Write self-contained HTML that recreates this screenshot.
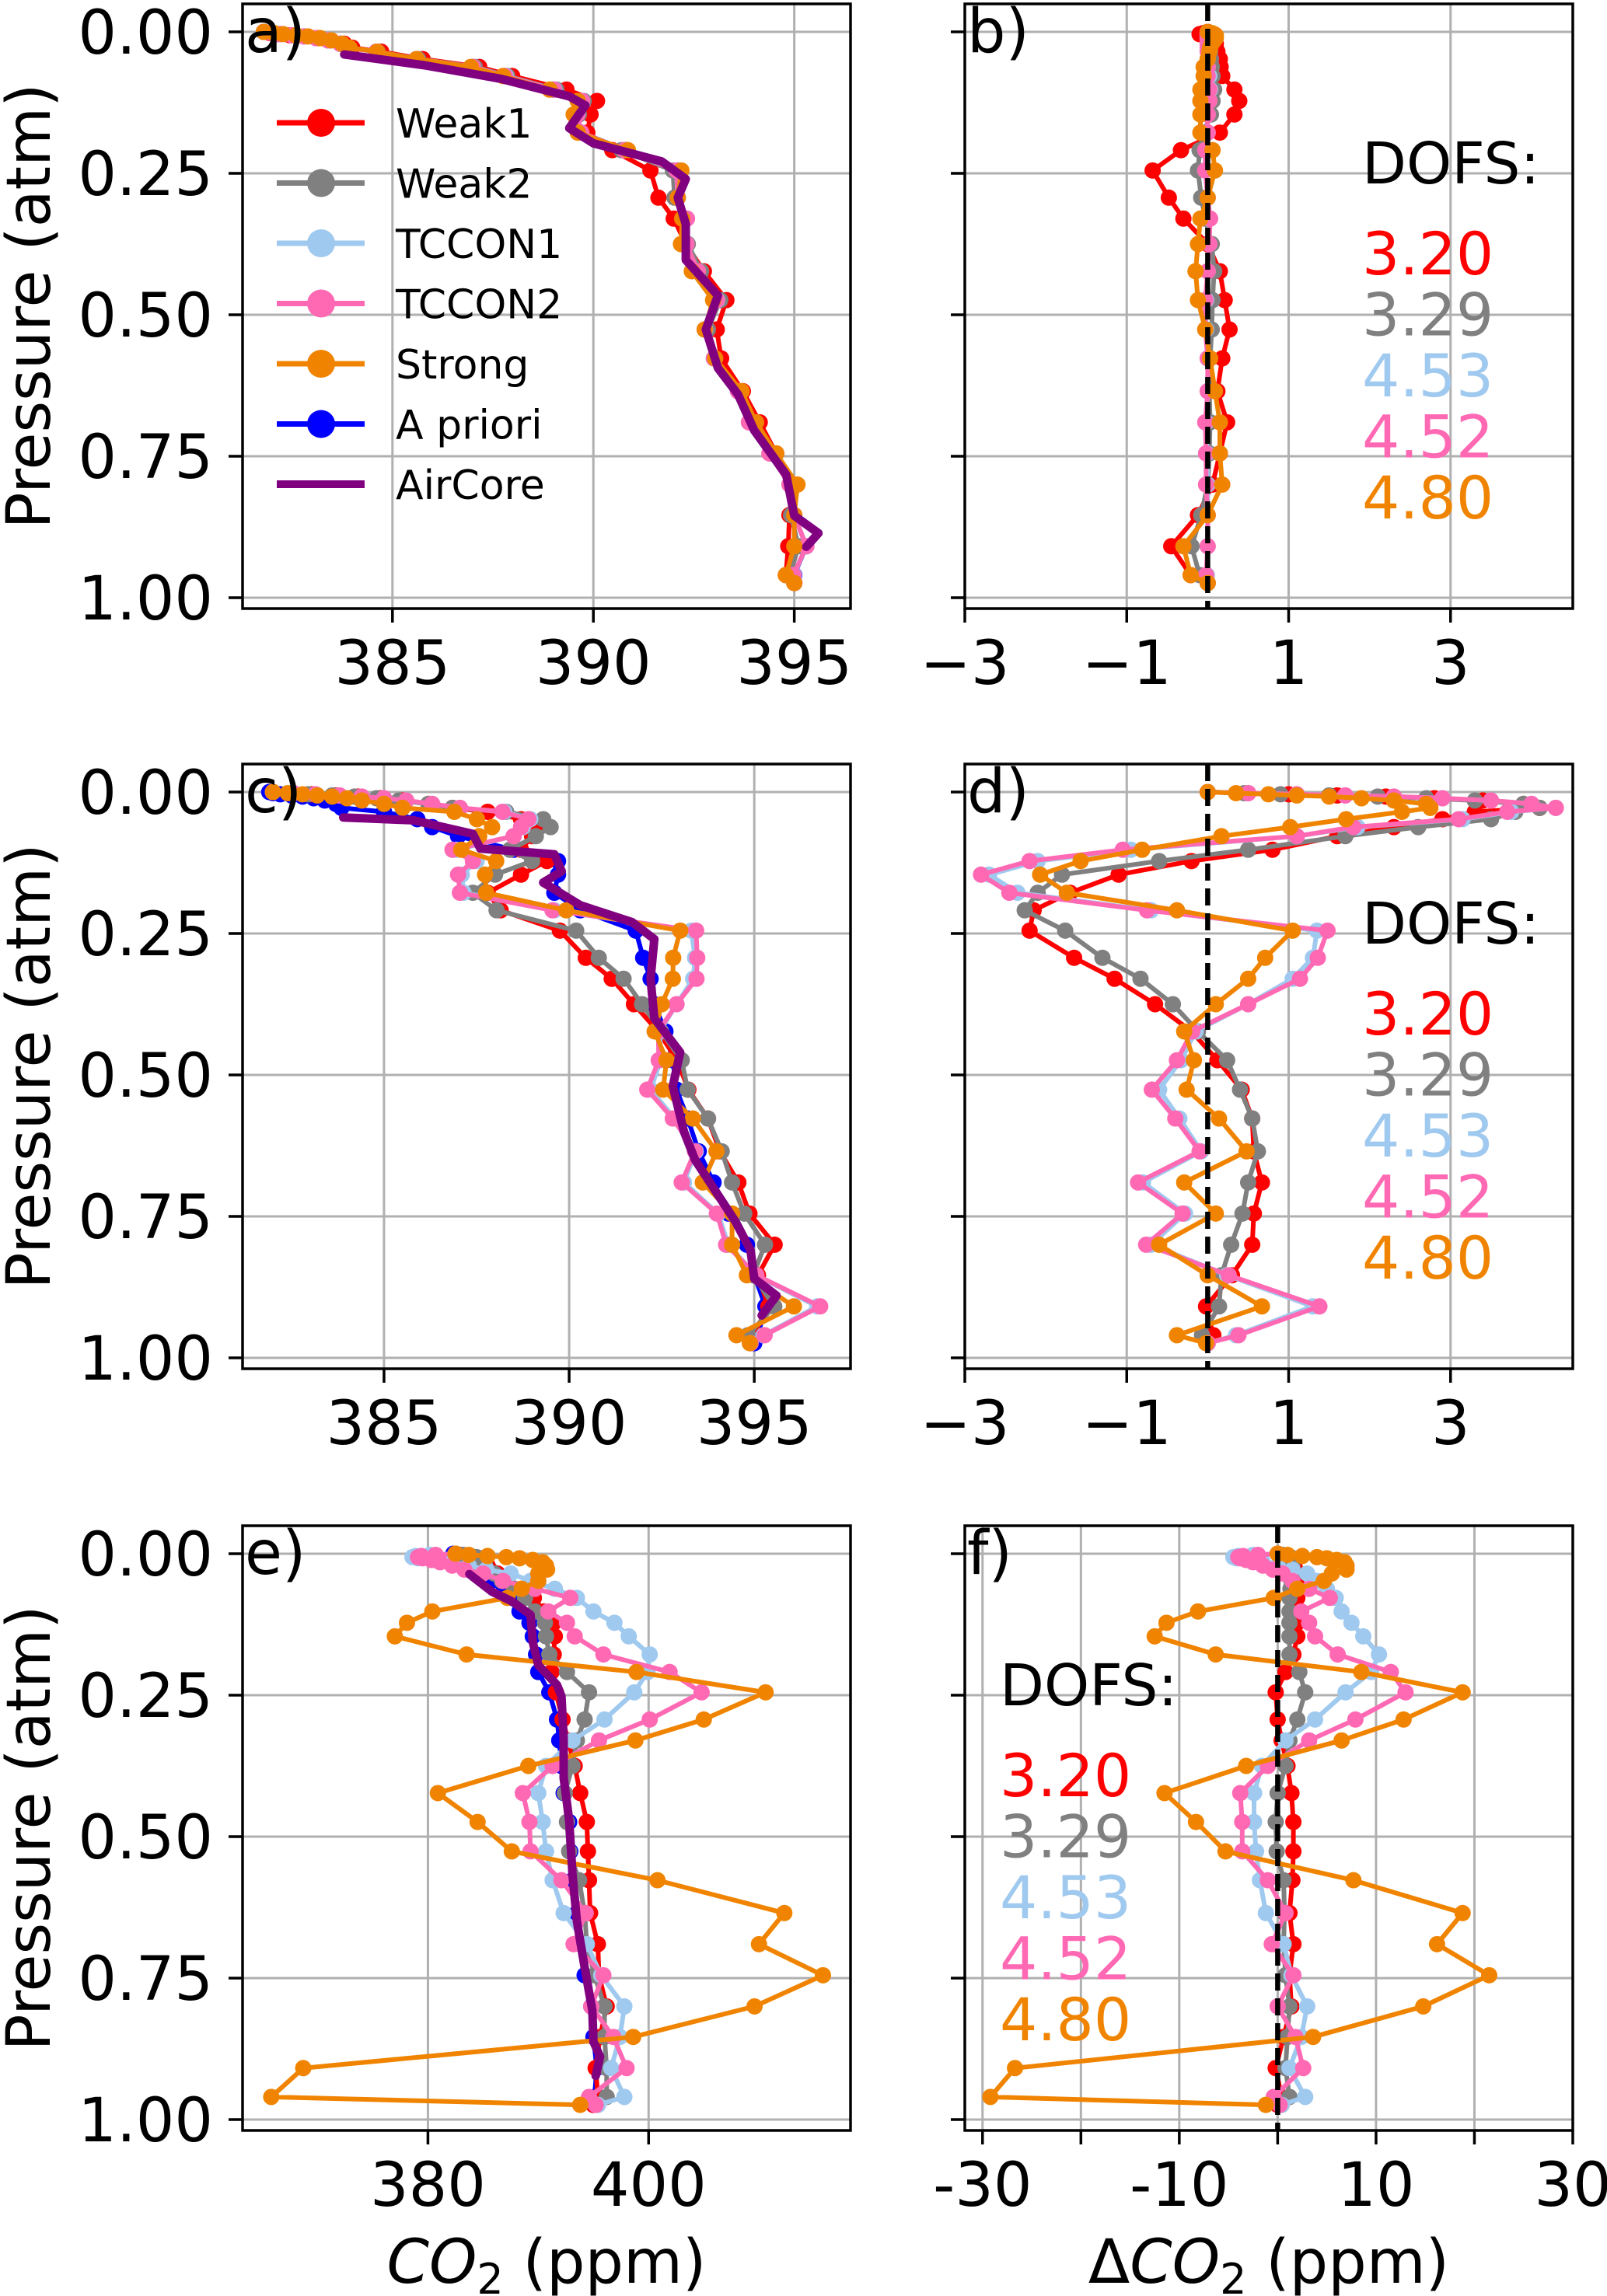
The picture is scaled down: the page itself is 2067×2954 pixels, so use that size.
<!DOCTYPE html>
<html><head><meta charset="utf-8"><title>CO2 profiles</title>
<style>
html,body{margin:0;padding:0;background:#fff;}
svg{display:block;font-family:"DejaVu Sans","Liberation Sans",sans-serif;}
</style></head>
<body>
<svg id="fig" width="2067" height="2954" viewBox="0 0 2067 2954" xmlns="http://www.w3.org/2000/svg"></svg>
<script>
// ---------- shared pressure grid of retrieval levels (atm) ----------
const P = [0,0.002,0.004,0.006,0.008,0.011,0.015,0.021,0.028,0.035,0.048,0.062,0.078,0.102,0.122,0.146,0.178,0.209,0.245,0.293,0.330,0.375,0.423,0.474,0.526,0.577,0.635,0.690,0.745,0.800,0.854,0.909,0.960,0.974];
const seriesNames = ["Weak1","Weak2","TCCON1","TCCON2","Strong","A priori","AirCore"];
const dofsLabels = ["3.20","3.29","4.53","4.52","4.80"];
const yTicks = [0,0.25,0.5,0.75,1.0];
const yTickLabels = ["0.00","0.25","0.50","0.75","1.00"];

// ---------- row 1 (panels a, b) ----------
const a_weak1 = [381.8,381.95,382.1,382.45,382.8,383.15,383.45,383.8,384.0,384.72,385.75,387.16,387.98,389.33,390.09,389.93,389.85,390.47,391.42,391.62,392.0,392.3,392.75,393.31,393.07,393.18,393.72,394.14,394.55,394.96,394.88,394.85,394.79,395.0];
const a_weak2 = [381.8,382.0,382.2,382.5,382.8,383.1,383.4,383.72,383.93,384.63,385.64,387.05,387.86,389.08,389.76,389.64,389.65,390.7,391.98,392.02,392.27,392.35,392.68,393.16,392.85,393.03,393.62,393.93,394.42,394.9,394.92,395.1,394.9,395.0];
const a_tccon1 = [381.8,382.0,382.2,382.5,382.8,383.1,383.4,383.7,383.9,384.6,385.6,387.0,387.82,389.03,389.72,389.6,389.7,390.78,392.07,392.1,392.32,392.32,392.6,393.08,392.78,393.0,393.6,393.88,394.39,394.9,395.0,395.3,394.99,395.0];
const a_tccon2 = [381.8,382.0,382.2,382.5,382.8,383.1,383.4,383.7,383.9,384.6,385.6,387.0,387.8,389.02,389.72,389.6,389.7,390.77,392.07,392.1,392.33,392.32,392.6,393.07,392.77,393.0,393.6,393.87,394.38,394.88,395.0,395.3,394.98,395.0];
const a_strong = [381.8,382.05,382.28,382.6,382.9,383.2,383.48,383.75,383.93,384.62,385.6,386.95,387.75,388.91,389.61,389.51,389.61,390.86,392.19,392.1,392.21,392.18,392.45,392.98,392.77,393.03,393.69,394.05,394.55,395.08,395.0,395.0,394.79,395.0];
const a_apriori = [381.8,382.0,382.2,382.5,382.8,383.1,383.4,383.7,383.9,384.6,385.6,387.0,387.8,389.0,389.7,389.6,389.7,390.8,392.1,392.1,392.3,392.3,392.6,393.1,392.8,393.0,393.6,393.9,394.4,394.9,395.0,395.3,395.0,395.0];
const a_aircore_p = [0.040,0.059,0.083,0.114,0.130,0.170,0.197,0.229,0.260,0.293,0.340,0.403,0.466,0.526,0.594,0.641,0.704,0.783,0.855,0.886,0.910];
const a_aircore = [383.8,385.8,387.7,389.4,389.8,389.4,390.0,391.7,392.3,392.1,392.3,392.3,393.1,392.8,393.1,393.6,394.0,394.8,395.0,395.6,395.3];
const b_weak1 = [0,-0.05,-0.1,-0.05,0,0.05,0.05,0.1,0.1,0.12,0.15,0.16,0.18,0.33,0.39,0.33,0.15,-0.33,-0.68,-0.48,-0.3,0,0.15,0.21,0.27,0.18,0.12,0.24,0.15,0.06,-0.12,-0.45,-0.21,0];
const b_weak2 = [0,0,0,0,0,0,0,0.02,0.03,0.03,0.04,0.05,0.06,0.08,0.06,0.04,-0.05,-0.1,-0.12,-0.08,-0.03,0.05,0.08,0.06,0.05,0.03,0.02,0.03,0.02,0,-0.08,-0.2,-0.1,0];
const b_tccon1 = [0,0,0,0,0,0,0,0,0,0,0,0,0.02,0.03,0.02,0,0,-0.02,-0.03,0,0.02,0.02,0,-0.02,-0.02,0,0,-0.02,-0.01,0,0,0,-0.01,0];
const b_tccon2 = [0,0,0,0,0,0,0,0,0,0,0,0,0,0.02,0.02,0,0,-0.03,-0.03,0,0.03,0.02,0,-0.03,-0.03,0,0,-0.03,-0.02,-0.02,0,0,-0.02,0];
const b_strong = [0,0.05,0.08,0.1,0.1,0.1,0.08,0.05,0.03,0.02,0,-0.05,-0.05,-0.09,-0.09,-0.09,-0.09,0.06,0.09,0,-0.09,-0.12,-0.15,-0.12,-0.03,0.03,0.09,0.15,0.15,0.18,0,-0.3,-0.21,0];

// ---------- row 2 (panels c, d) ----------
const c_weak1 = [382.0,382.55,383.05,383.7,384.3,384.9,385.5,386.2,386.85,387.8,388.7,389.2,389.0,388.7,389.4,388.7,387.8,388.15,389.75,390.45,391.15,391.75,392.4,392.92,393.22,393.75,394.07,394.57,394.87,395.55,395.1,395.38,394.97,394.9];
const c_weak2 = [382.0,382.5,382.95,383.6,384.2,384.8,385.4,386.2,386.85,388.3,389.3,389.5,389.1,388.4,389.0,388.0,387.4,388.04,390.19,390.8,391.47,391.97,392.48,393.04,393.2,393.75,394.12,394.4,394.73,395.29,394.97,395.54,394.83,394.9];
const c_tccon1 = [382.0,382.55,383.15,383.8,384.4,385.0,385.6,386.3,387.05,388.25,388.95,388.75,388.5,386.95,387.5,387.1,387.15,389.6,393.3,393.4,393.35,392.9,392.45,392.47,392.2,392.85,393.42,393.1,394.02,394.3,395.04,396.7,395.25,394.9];
const c_tccon2 = [382.0,382.55,383.15,383.8,384.4,385.0,385.6,386.3,387.05,388.2,388.9,388.7,388.5,386.85,387.4,387.0,387.05,389.55,393.43,393.46,393.44,392.9,392.41,392.42,392.11,392.8,393.4,393.04,393.99,394.24,395.06,396.78,395.28,394.9];
const c_strong = [382.0,382.4,382.8,383.2,383.6,384.0,384.4,385.0,385.5,386.9,387.51,387.92,387.57,387.09,388.03,387.73,387.76,389.92,393.0,392.81,392.8,392.5,392.31,392.63,392.54,393.34,393.98,393.61,394.4,394.4,394.8,396.07,394.52,394.88];
const c_apriori = [381.9,382.0,382.2,382.5,382.8,383.1,383.4,383.7,383.85,385.0,385.9,386.3,387.0,388.5,389.7,389.7,389.6,390.3,391.8,392.0,392.2,392.3,392.6,392.8,392.9,393.2,393.5,393.9,394.3,394.8,395.0,395.3,395.1,395.0];
const c_aircore_p = [0.045,0.050,0.074,0.100,0.110,0.140,0.160,0.200,0.230,0.260,0.330,0.400,0.460,0.520,0.600,0.650,0.700,0.760,0.810,0.860,0.890,0.925];
const c_aircore = [383.9,385.8,387.4,387.6,389.6,389.8,389.3,390.3,391.7,392.3,392.2,392.3,393.0,392.8,393.1,393.4,393.9,394.5,394.9,395.0,395.6,395.2];
const d_weak1 = [0,0.5,1.0,1.6,2.2,2.8,3.4,3.9,4.1,3.3,2.9,2.3,1.6,0.8,-0.2,-1.1,-1.7,-2.15,-2.2,-1.65,-1.15,-0.65,-0.2,0.12,0.42,0.55,0.57,0.67,0.57,0.55,0.3,-0.02,0.07,0];
const d_weak2 = [0,0.45,0.9,1.5,2.1,2.7,3.3,3.9,4.1,3.8,3.5,2.6,1.7,0.5,-0.6,-1.8,-2.1,-2.26,-1.76,-1.3,-0.83,-0.43,-0.12,0.24,0.4,0.55,0.62,0.5,0.43,0.29,0.17,0.14,-0.07,0];
const d_tccon1 = [0,0.5,1.1,1.7,2.3,2.9,3.5,4.0,4.3,3.75,3.15,1.85,1.1,-0.95,-2.1,-2.7,-2.35,-0.7,1.35,1.3,1.05,0.5,-0.15,-0.33,-0.6,-0.35,-0.08,-0.8,-0.28,-0.7,0.24,1.3,0.35,0];
const d_tccon2 = [0,0.5,1.1,1.7,2.3,2.9,3.5,4.0,4.3,3.7,3.1,1.8,1.1,-1.05,-2.2,-2.8,-2.45,-0.75,1.48,1.36,1.14,0.5,-0.19,-0.38,-0.69,-0.4,-0.1,-0.86,-0.31,-0.76,0.26,1.38,0.38,0];
const d_strong = [0,0.35,0.75,1.1,1.5,1.9,2.3,2.7,2.75,2.4,1.71,1.02,0.17,-0.81,-1.57,-2.07,-1.74,-0.38,1.05,0.71,0.5,0.1,-0.29,-0.17,-0.26,0.14,0.48,-0.29,0.1,-0.6,0,0.67,-0.38,-0.02];

// ---------- row 3 (panels e, f) ----------
const e_weak1 = [382.5,383.0,383.5,384.0,384.5,385.0,385.2,385.4,385.6,386.3,387.2,388.5,389.6,390.5,391.4,391.5,391.4,391.2,391.6,392.2,392.7,393.3,393.8,394.4,394.5,394.6,394.7,395.4,395.5,396.2,395.6,395.2,395.4,395.0];
const e_weak2 = [382.5,383.2,383.9,384.4,384.8,385.0,385.1,385.2,385.3,386.0,386.7,387.8,388.8,389.7,390.6,390.7,391.0,392.6,394.6,394.2,393.5,393.1,392.4,392.6,392.8,393.7,394.2,394.4,395.1,396.0,396.0,396.2,396.2,395.4];
const e_tccon1 = [382.5,380.2,378.9,378.6,379.1,380.5,382.1,383.7,385.3,387.5,389.3,391.5,393.5,395.0,396.9,398.2,400.1,399.9,398.7,396.0,393.1,390.7,390.0,390.4,390.7,391.3,392.3,394.4,395.7,397.8,397.4,396.6,397.8,395.4];
const e_tccon2 = [382.5,380.7,379.4,379.1,379.5,380.3,381.1,382.2,383.3,385.0,386.8,389.7,392.9,390.9,392.6,393.3,395.9,401.9,404.8,400.1,395.5,391.3,388.6,389.2,389.3,392.1,394.3,393.2,395.9,394.8,396.8,398.0,394.6,395.2];
const e_strong = [382.5,383.7,385.4,387.1,388.3,389.5,390.4,390.7,390.8,390.0,390.0,388.5,387.2,380.4,378.1,377.0,383.5,398.9,410.6,405.0,398.8,389.1,380.9,384.5,387.6,400.8,412.3,410.0,415.8,409.6,398.6,368.7,365.8,393.8];
const e_apriori = [382.3,382.6,382.9,383.2,383.5,383.8,384.1,384.4,384.7,385.1,385.8,386.9,387.6,388.3,389.2,389.5,389.8,390.0,391.0,391.7,391.9,392.1,392.3,392.8,392.9,393.1,393.5,393.8,394.2,394.8,395.0,395.3,395.1,395.0];
const e_aircore_p = [0.036,0.067,0.084,0.108,0.156,0.197,0.232,0.252,0.327,0.396,0.471,0.567,0.649,0.731,0.807,0.862,0.889,0.923];
const e_aircore = [383.75,385.8,387.6,389.3,389.5,390.0,391.7,392.1,392.3,392.3,392.8,393.1,393.5,394.2,394.9,395.0,395.6,395.2];
const f_weak1 = [0,0.3,0.6,0.9,1.2,1.5,1.6,1.7,1.8,1.8,1.9,2.0,2.0,2.0,2.0,2.0,1.6,0.8,-0.2,0,0.4,1.0,1.4,1.6,1.6,1.5,1.2,1.6,1.2,1.4,0.6,-0.2,0.4,0];
const f_weak2 = [0,0.5,1.0,1.3,1.5,1.5,1.5,1.5,1.5,1.5,1.4,1.3,1.2,1.2,1.2,1.2,1.2,2.2,2.8,2.0,1.2,0.8,0,-0.2,-0.1,0.6,0.7,0.6,0.8,1.2,1.0,0.8,1.2,0.4];
const f_tccon1 = [0,-2.5,-4,-4.5,-4.2,-3,-1.5,0,1.5,3.0,4.0,5.0,5.9,6.5,7.5,8.7,10.3,9.5,6.9,3.8,0.8,-1.6,-2.4,-2.4,-2.2,-1.8,-1.2,0.6,1.4,3.0,2.4,1.2,2.8,0.4];
const f_tccon2 = [0,-2,-3.5,-4,-3.8,-3.2,-2.5,-1.5,-0.5,0.5,1.5,3.2,5.3,2.4,3.2,3.8,6.1,11.5,13.0,7.9,3.2,-1.0,-3.8,-3.6,-3.6,-1.0,0.8,-0.6,1.6,0,1.8,2.6,-0.4,0.2];
const f_strong = [0,1,2.5,4,5,6,6.8,7,7,5.5,4.7,2.0,-0.4,-8.1,-11.3,-12.5,-6.3,8.5,18.8,12.8,6.5,-3.2,-11.5,-8.3,-5.3,7.7,18.8,16.2,21.5,14.8,3.6,-26.7,-29.2,-1.2];

// ---------- tick arrays ----------
const xTicksA = [385,390,395];
const xTicksC = [385,390,395];
const xTicksE = [380,400];
const xTicksBD = [-3,-1,1,3];
const xTickLabelsBD = ["\u22123","\u22121","1","3"];
const xTicksF = [-30,-20,-10,0,10,20,30];
const xTickLabelsF = ["-30","","-10","","10","","30"];

const COLORS = {weak1:"#ff0000",weak2:"#808080",tccon1:"#9fc9ef",tccon2:"#ff69b4",strong:"#f08400",apriori:"#0000ff",aircore:"#800080"};
const NS = "http://www.w3.org/2000/svg";
const svg = document.getElementById("fig");
function mk(tag, attrs, parent){const e=document.createElementNS(NS,tag);for(const k in attrs)e.setAttribute(k,attrs[k]);(parent||svg).appendChild(e);return e;}

const COLS = [{x0:312,x1:1094},{x0:1241,x1:2023}];
const ROWS = [5,983,1963];
const PH = 778;
const LW = 6, MR = 10.5;

function makePanel(col,row,xmin,xmax,letter){
  const x0=COLS[col].x0, x1=COLS[col].x1, top=ROWS[row];
  const g = mk("g",{});
  
  
  return {g,x0,x1,top,bottom:top+PH,
    sx:v=>x0+(v-xmin)/(xmax-xmin)*(x1-x0),
    sy:p=>top+36+p*728};
}
function grid(pn,xt,yt){
  xt.forEach(v=>{const l=mk("line",{x1:pn.sx(v),x2:pn.sx(v),y1:pn.top,y2:pn.bottom,stroke:"#b0b0b0","stroke-width":3},pn.g);
    });
  yt.forEach(p=>{const l=mk("line",{x1:pn.x0,x2:pn.x1,y1:pn.sy(p),y2:pn.sy(p),stroke:"#b0b0b0","stroke-width":3},pn.g);
    });
}
function axes(pn,xt,xl,showY,letter){
  const r=mk("rect",{x:pn.x0,y:pn.top,width:pn.x1-pn.x0,height:PH,fill:"none",stroke:"#000","stroke-width":3.5},pn.g);
  
  xt.forEach((v,i)=>{
    mk("line",{x1:pn.sx(v),x2:pn.sx(v),y1:pn.bottom,y2:pn.bottom+18,stroke:"#000","stroke-width":3.5},pn.g);
    if(xl[i]!==""){const t=mk("text",{x:pn.sx(v),y:pn.bottom+97,"font-size":78,"text-anchor":"middle",fill:"#000"},pn.g);t.textContent=xl[i];
      }
  });
  yTicks.forEach((p,i)=>{
    mk("line",{x1:pn.x0-18,x2:pn.x0,y1:pn.sy(p),y2:pn.sy(p),stroke:"#000","stroke-width":3.5},pn.g);
    if(showY){const t=mk("text",{x:pn.x0-38,y:pn.sy(p)+28,"font-size":78,"text-anchor":"end",fill:"#000"},pn.g);t.textContent=yTickLabels[i];
      }
  });
  const lt=mk("text",{x:pn.x0+3,y:pn.top+62,"font-size":78,fill:"#000"},pn.g);lt.textContent=letter+")";
  
}
function series(pn,ps,vs,color,name,markers,lw){
  const pts=vs.map((v,i)=>pn.sx(v).toFixed(1)+","+pn.sy(ps[i]).toFixed(1)).join(" ");
  const pl=mk("polyline",{points:pts,fill:"none",stroke:color,"stroke-width":lw,"stroke-linejoin":"round","stroke-linecap":"round"},pn.g);
  
  
  if(markers){vs.forEach((v,i)=>{const c=mk("circle",{cx:pn.sx(v),cy:pn.sy(ps[i]),r:MR,fill:color},pn.g);
    
    });}
}
function zeroLine(pn){
  const l=mk("line",{x1:pn.sx(0),x2:pn.sx(0),y1:pn.top,y2:pn.bottom,stroke:"#000","stroke-width":6.5,"stroke-dasharray":"22,10"},pn.g);
  
}
function dofs(pn,xLeft){
  const d=mk("text",{x:xLeft,y:pn.top+231,"font-size":74,fill:"#000"},pn.g);d.textContent="DOFS:";
  
  const cols=[COLORS.weak1,COLORS.weak2,COLORS.tccon1,COLORS.tccon2,COLORS.strong];
  dofsLabels.forEach((s,i)=>{const t=mk("text",{x:xLeft,y:pn.top+348+78.5*i,"font-size":76,fill:cols[i]},pn.g);t.textContent=s;
    });
}
function leftPanel(col,row,lim,xt,letter,w1,w2,t1,t2,st,ap,acp,ac){
  const pn=makePanel(col,row,lim[0],lim[1],letter);
  grid(pn,xt,yTicks);
  series(pn,P,ap,COLORS.apriori,"apriori",true,LW);
  series(pn,P,w1,COLORS.weak1,"weak1",true,LW);
  series(pn,P,w2,COLORS.weak2,"weak2",true,LW);
  series(pn,P,t1,COLORS.tccon1,"tccon1",true,LW);
  series(pn,P,t2,COLORS.tccon2,"tccon2",true,LW);
  series(pn,P,st,COLORS.strong,"strong",true,LW);
  series(pn,acp,ac,COLORS.aircore,"aircore",false,11);
  axes(pn,xt,xt.map(String),true,letter);
  return pn;
}
function rightPanel(row,lim,xt,xl,letter,w1,w2,t1,t2,st,dx){
  const pn=makePanel(1,row,lim[0],lim[1],letter);
  grid(pn,xt,yTicks);
  series(pn,P,w1,COLORS.weak1,"weak1",true,LW);
  series(pn,P,w2,COLORS.weak2,"weak2",true,LW);
  series(pn,P,t1,COLORS.tccon1,"tccon1",true,LW);
  series(pn,P,t2,COLORS.tccon2,"tccon2",true,LW);
  series(pn,P,st,COLORS.strong,"strong",true,LW);
  zeroLine(pn);
  axes(pn,xt,xl,false,letter);
  dofs(pn,dx);
  return pn;
}

leftPanel(0,0,[381.27,396.4],xTicksA,"a",a_weak1,a_weak2,a_tccon1,a_tccon2,a_strong,a_apriori,a_aircore_p,a_aircore);
rightPanel(0,[-3,4.51],xTicksBD,xTickLabelsBD,"b",b_weak1,b_weak2,b_tccon1,b_tccon2,b_strong,1752);
leftPanel(0,1,[381.18,397.6],xTicksC,"c",c_weak1,c_weak2,c_tccon1,c_tccon2,c_strong,c_apriori,c_aircore_p,c_aircore);
rightPanel(1,[-3,4.51],xTicksBD,xTickLabelsBD,"d",d_weak1,d_weak2,d_tccon1,d_tccon2,d_strong,1752);
leftPanel(0,2,[363.2,418.3],xTicksE,"e",e_weak1,e_weak2,e_tccon1,e_tccon2,e_strong,e_apriori,e_aircore_p,e_aircore);
rightPanel(2,[-31.8,30.0],xTicksF,xTickLabelsF,"f",f_weak1,f_weak2,f_tccon1,f_tccon2,f_strong,1286);

// legend in panel a
const lg=mk("g",{});


const legCols=[COLORS.weak1,COLORS.weak2,COLORS.tccon1,COLORS.tccon2,COLORS.strong,COLORS.apriori,COLORS.aircore];
seriesNames.forEach((n,i)=>{
  const y=158+77.5*i;
  const e=mk("g",{},lg);
  
  
  mk("line",{x1:356,x2:469,y1:y,y2:y,stroke:legCols[i],"stroke-width":i===6?10:7},e);
  if(i<6) mk("circle",{cx:413,cy:y,r:18,fill:legCols[i]},e);
  const t=mk("text",{x:509,y:y+19,"font-size":52,fill:"#000"},e);t.textContent=n;
});

// y-axis titles
[0,1,2].forEach(r=>{
  const cy=ROWS[r]+PH/2;
  const t=mk("text",{x:64,y:cy,"font-size":78,"text-anchor":"middle",transform:"rotate(-90 64 "+cy+")",fill:"#000"});
  t.textContent="Pressure (atm)";
  
  
});
</script>
<svg style="position:absolute;left:0;top:0" width="2067" height="2954">
  <text x="703" y="2937" font-size="78" text-anchor="middle" font-family="DejaVu Sans, Liberation Sans, sans-serif"><tspan font-style="italic">CO</tspan><tspan font-size="54" dy="14">2</tspan><tspan dy="-14"> (ppm)</tspan></text>
  <text x="1632" y="2937" font-size="78" text-anchor="middle" font-family="DejaVu Sans, Liberation Sans, sans-serif">Δ<tspan font-style="italic">CO</tspan><tspan font-size="54" dy="14">2</tspan><tspan dy="-14"> (ppm)</tspan></text>
</svg>
</body></html>
